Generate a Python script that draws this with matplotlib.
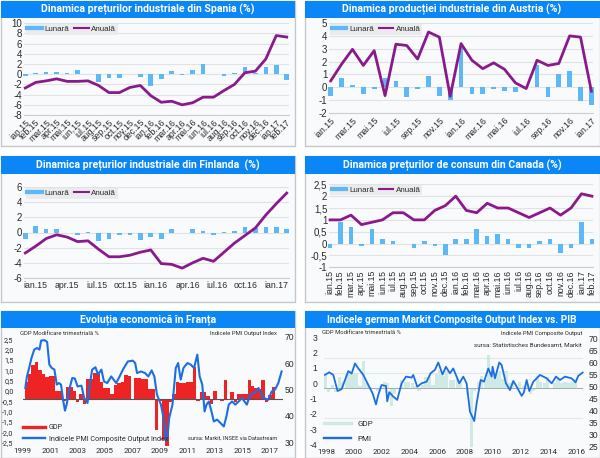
import matplotlib
matplotlib.use("Agg")
import matplotlib.pyplot as plt
from matplotlib.lines import Line2D
from matplotlib.patches import Rectangle

W, H = 600, 458
NARROW = ["Roboto", "Liberation Sans", "DejaVu Sans"]
plt.rcParams["font.family"] = ["Liberation Sans", "DejaVu Sans"]

BAND = "#0a86f6"
BAR = "#5cb8f6"
PURPLE = "#8a1a8c"
TXT = "#2b2b2b"
GRID = "#dfe3e5"

# luni afisate pe axe
MONTHS = ["ian", "feb", "mar", "apr", "mai", "iun", "iul", "aug", "sep", "oct", "nov", "dec"]
months_15_17 = [f"{m}.{y}" for y in (15, 16) for m in MONTHS] + ["ian.17", "feb.17"]

spain_m = [-0.4, 0.3, 0.5, 0.5, 0.3, 0.9, 0.1, -1.6, -0.8, -0.7, 0.0, -0.6, -2.4, -1.0, 0.6, -0.2,
           0.8, 2.0, 0.0, -0.3, 0.3, 1.4, 0.3, 1.5, 1.8, -1.2]
spain_y = [-2.7, -1.6, -1.3, -0.9, -1.4, -1.4, -1.3, -2.2, -3.6, -3.6, -2.6, -2.2, -4.2, -5.5, -5.3,
           -6.0, -5.6, -4.5, -4.5, -3.2, -2.0, 0.3, 0.6, 3.0, 7.6, 7.3]

austria_m = [-0.65, 0.7, 0.2, -0.5, -0.1, 0.7, 0.5, -0.75, -0.1, 0.9, -0.65, -1.0, 3.2, -0.55, -0.5,
             -0.1, -0.3, -0.4, 0.0, 1.7, -0.75, 1.0, 1.3, -1.05, -1.4]
austria_y = [0.5, 1.8, 2.95, 1.7, 2.85, -0.65, 3.35, 3.25, 2.2, 4.3, 3.9, -0.7, 3.4, 2.1, 1.45, 1.9,
             1.4, 0.35, -0.1, 2.1, 1.7, 1.85, 4.0, 3.9, -0.3]

finland_m = [-0.9, 0.9, 0.4, 0.4, 0.0, -0.3, 0.05, -1.1, -0.9, -0.3, -0.3, -1.0, -0.6, -0.8, 0.4, 0.0,
             0.5, 0.2, -0.3, 0.05, 0.2, 0.7, 0.6, 0.7, 0.7, 0.4]
finland_y = [-2.7, -1.8, -0.8, -0.3, -0.6, -1.2, -1.1, -2.2, -3.2, -3.2, -3.0, -2.6, -2.3, -4.1, -4.2,
             -4.7, -4.0, -3.4, -3.8, -2.6, -1.4, -0.4, 0.6, 2.3, 3.8, 5.2]

canada_m = [-0.2, 0.9, 0.7, -0.1, 0.6, 0.2, 0.1, 0.0, -0.2, 0.1, -0.1, -0.5, 0.2, 0.2, 0.6, 0.3, 0.4,
            0.2, -0.2, -0.2, 0.1, 0.2, -0.4, -0.2, 0.9, 0.2]
canada_y = [1.0, 1.0, 1.2, 0.8, 0.9, 1.0, 1.3, 1.3, 1.0, 1.0, 1.4, 1.6, 2.0, 1.4, 1.3, 1.7, 1.5, 1.5,
            1.3, 1.1, 1.3, 1.5, 1.2, 1.5, 2.1, 2.0]

# Franta: PIB trimestrial din 1999, PMI
fr_gdp = [0.58, 0.87, 1.18, 1.3, 1.0, 0.86, 0.78, 0.82, 0.82, 0.3, 0.3, -0.05, 0.43, 0.43, 0.3, -0.1,
          0.2, -0.15, 0.7, 0.7, 0.9, 0.9, 0.6, 0.4, 0.4, 0.2, 0.5, 0.55, 0.6, 0.85, 0.8, 0.0,
          0.75, 0.75, 0.7, 0.7, 0.35, 0.35, -1.05, -0.05, -1.4, -1.6, -0.1, 0.2, 0.6, 0.55, 0.55, 0.6,
          0.6, 1.1, -0.05, 0.25, 0.25, 0.1, -0.15, 0.28, 0.0, -0.05, 0.67, -0.02, 0.25, -0.1, 0.2, 0.2,
          0.2, 0.65, 0.45, 0.4, 0.35, 0.67, -0.1, 0.15, 0.43]
fr_pmi_x = [1999.05, 1999.17, 1999.3, 1999.5, 1999.7, 1999.9, 2000.08, 2000.2, 2000.45, 2000.64, 2000.8,
            2000.98, 2001.17, 2001.34, 2001.5, 2001.65, 2001.82, 2001.94, 2002.06, 2002.25, 2002.47,
            2002.66, 2002.86, 2003.14, 2003.34, 2003.58, 2003.75, 2003.92, 2004.16, 2004.35, 2004.59,
            2004.78, 2005.02, 2005.31, 2005.67, 2005.92, 2006.16, 2006.52, 2006.88, 2007.05, 2007.19,
            2007.48, 2007.77, 2008.01, 2008.25, 2008.45, 2008.64, 2008.93, 2009.12, 2009.29, 2009.41,
            2009.53, 2009.77, 2010.01, 2010.18, 2010.37, 2010.57, 2010.86, 2011.1, 2011.34, 2011.58,
            2011.75, 2011.94, 2012.11, 2012.25, 2012.42, 2012.61, 2012.78, 2013.02, 2013.27, 2013.51,
            2013.7, 2013.87, 2014.11, 2014.35, 2014.59, 2014.83, 2015.19, 2015.43, 2015.72, 2016.04,
            2016.4, 2016.76, 2017.0, 2017.24, 2017.48, 2017.72]
fr_pmi = [50.5, 54.9, 57.5, 61.9, 65.1, 65.7, 65.1, 68.5, 68.7, 68.0, 59.4, 58.1, 57.5, 51.8, 52.4, 51.8,
          45.4, 41.9, 44.2, 49.9, 54.3, 54.1, 51.1, 51.4, 46.7, 44.8, 51.8, 57.5, 58.4, 55.6, 57.5, 53.0,
          52.4, 54.9, 52.4, 54.9, 57.5, 60.6, 60.9, 60.0, 56.2, 56.8, 56.2, 54.9, 57.2, 54.9, 48.0, 44.2,
          39.1, 30.3, 32.2, 39.1, 44.2, 58.1, 60.0, 53.7, 58.1, 60.0, 59.4, 58.1, 63.2, 54.9, 51.8, 41.6,
          44.2, 45.4, 41.6, 37.8, 38.5, 37.2, 35.9, 39.7, 44.2, 45.4, 44.2, 45.4, 46.7, 44.2, 48.0, 48.6,
          50.5, 46.7, 46.1, 49.2, 49.9, 52.4, 56.8]
fr_years = [1999, 2001, 2003, 2005, 2007, 2009, 2011, 2013, 2015, 2017]
fr_left = [2.5, 2.0, 1.5, 1.0, 0.5, 0.0, -0.5, -1.0, -1.5, -2.0, -2.5]
fr_right = [30, 40, 50, 60, 70]

# Germania
de_gdp = [0.8, -0.3, 0.2, -0.3, 0.7, 0.4, 0.9, 1.0, 1.0, 0.9, 0.1, 1.8, 0.3, 0.05, -0.1, -0.2,
          0.1, 0.4, 0.3, -1.2, -0.4, -0.1, 0.5, 0.4, 0.4, 0.3, 0.1, -0.2, 0.2, 0.7, 0.7, 0.2,
          0.9, 1.2, 0.8, 1.1, 0.5, 0.5, 0.6, 0.5, -0.1, -0.5, -3.93, -0.2, 0.4, 0.8, 0.6, 2.2,
          1.0, 1.0, 1.1, 0.6, 1.1, 0.3, 0.4, -0.1, 0.4, 0.1, 0.2, -0.4, -0.2, 0.8, 0.4, 0.3,
          0.7, -0.1, 0.3, 0.6, 0.3, 0.4, 0.3, 0.4, 0.6]
de_pmi_x = [1997.93, 1998.24, 1998.53, 1998.72, 1998.84, 1999.13, 1999.37, 1999.61, 1999.85, 2000.09,
            2000.33, 2000.69, 2001.05, 2001.36, 2001.6, 2001.76, 2002.0, 2002.32, 2002.41, 2002.56,
            2002.84, 2003.13, 2003.44, 2003.76, 2004.16, 2004.28, 2004.57, 2004.88, 2005.24, 2005.53,
            2005.84, 2006.08, 2006.39, 2006.63, 2006.92, 2007.16, 2007.4, 2007.59, 2007.88, 2008.12,
            2008.36, 2008.67, 2008.84, 2009.13, 2009.37, 2009.68, 2009.92, 2009.99, 2010.16, 2010.47,
            2010.64, 2010.95, 2011.24, 2011.48, 2011.72, 2012.08, 2012.24, 2012.44, 2012.63, 2012.92,
            2013.4, 2013.88, 2014.24, 2014.55, 2014.84, 2015.2, 2015.67, 2015.96, 2016.15, 2016.47]
de_pmi = [54.9, 56.0, 54.9, 50.7, 48.2, 49.0, 52.8, 56.5, 55.5, 59.7, 57.6, 54.9, 50.7, 47.2, 42.6, 46.5,
          50.7, 50.3, 43.9, 47.7, 45.9, 44.5, 51.4, 54.2, 53.8, 54.9, 50.0, 51.4, 52.1, 55.6, 57.0, 60.1,
          55.1, 58.3, 55.6, 57.6, 54.2, 51.4, 54.2, 51.4, 39.6, 35.7, 43.1, 52.8, 52.1, 57.6, 54.2, 58.3,
          53.5, 60.1, 59.0, 51.4, 48.6, 52.4, 50.0, 46.2, 47.6, 52.8, 48.2, 52.1, 54.9, 53.5, 51.4, 54.2,
          52.8, 54.2, 53.5, 51.8, 54.5, 55.9]
de_years = [1998, 2000, 2002, 2004, 2006, 2008, 2010, 2012, 2014, 2016]
de_left = [3, 2, 1, 0, -1, -2, -3, -4]
de_right = [25, 30, 35, 40, 45, 50, 55, 60, 65, 70]


def px_axes(fig, x0, y0, x1, y1, **kw):
    """Axes placed by pixel box (y measured from the top of the image)."""
    ax = fig.add_axes([x0 / W, 1 - y1 / H, (x1 - x0) / W, (y1 - y0) / H], **kw)
    ax.patch.set_alpha(0)
    return ax


def set_ylim_px(ax, v1, p1, v2, p2, top, bottom):
    """ylim such that value v1 lands on pixel p1 and v2 on p2, for an axes spanning top..bottom."""
    k = (v1 - v2) / (p1 - p2)
    ax.set_ylim(v1 + k * (bottom - p1), v1 + k * (top - p1))


def comma(v, dec=1):
    return f"{v:.{dec}f}".replace(".", ",")


def card(bg, x0, y0, x1, y1, band_bottom, title, size=7.6):
    bg.add_patch(Rectangle((x0, y0), x1 - x0, y1 - y0, fc="#f8fafb", ec="#c4c8ca", lw=1.0))
    bg.add_patch(Rectangle((x0, y0), x1 - x0, band_bottom - y0, fc=BAND, ec="none"))
    bg.text((x0 + x1) / 2, (y0 + band_bottom) / 2 + 0.3, title, color="white", ha="center", va="center",
            fontsize=size, fontweight="bold", family=NARROW)


def monthly(fig, box, xlim, ylim, yticks, ylabels, monthly_v, yearly_v, tick_pos, tick_lab, rot, leg_box):
    x0, y0, x1, y1 = box
    ax = px_axes(fig, x0, y0, x1, y1)
    xs = list(range(len(monthly_v)))
    ax.bar(xs, monthly_v, width=0.44, color=BAR, zorder=2, clip_on=False)
    ax.plot(xs, yearly_v, color=PURPLE, lw=2.0, zorder=3, clip_on=False)
    ax.set_xlim(*xlim)
    ax.set_ylim(*ylim)
    ax.set_yticks(yticks, ylabels)
    ax.set_xticks(tick_pos, tick_lab)
    ax.yaxis.grid(True, color=GRID, lw=0.8, zorder=0)
    ax.axhline(0, color="#b9dcf5", lw=0.7, ls=":", zorder=1)
    for s in ax.spines.values():
        s.set_visible(False)
    ax.spines["bottom"].set_visible(True)
    ax.spines["bottom"].set_color("#c9ced1")
    ax.tick_params(axis="y", length=0, pad=1.2, labelsize=7.0, labelcolor=TXT)
    ax.tick_params(axis="x", length=0, pad=2, labelsize=6.3, labelcolor=TXT)
    for t in ax.get_xticklabels():
        t.set_rotation(rot)
        if rot == 45:
            t.set_ha("right")
            t.set_rotation_mode("anchor")
    handles = [Line2D([], [], color=BAR, lw=3.0, label="Lunară"),
               Line2D([], [], color=PURPLE, lw=1.5, label="Anuală")]
    lx, ly = leg_box
    leg = ax.legend(handles=handles, ncol=2, loc="upper left",
                    bbox_to_anchor=((lx - x0) / (x1 - x0), 1 - (ly - y0) / (y1 - y0)),
                    fontsize=5.8, frameon=True, fancybox=False, facecolor="#e9ebec", edgecolor="none",
                    framealpha=1, borderpad=0.2, borderaxespad=0, handlelength=1.8, handletextpad=0.35,
                    columnspacing=0.6, labelcolor=TXT)
    leg.set_zorder(4)
    return ax


fig = plt.figure(figsize=(W / 100, H / 100), dpi=100, facecolor="white")
bg = fig.add_axes([0, 0, 1, 1], zorder=0)
bg.set_xlim(0, W)
bg.set_ylim(H, 0)
bg.axis("off")

card(bg, 0.5, 0.5, 295, 146, 17.5, "Dinamica prețurilor industriale din Spania (%)")
card(bg, 304.5, 0.5, 599.5, 146, 17.5, "Dinamica producției industriale din Austria (%)")
card(bg, 0.5, 155.5, 295, 302, 174, "Dinamica prețurilor industriale din Finlanda  (%)")
card(bg, 304.5, 155.5, 599.5, 302, 174, "Dinamica prețurilor de consum din Canada (%)")
card(bg, 0.5, 311, 295, 457.5, 328, "Evoluția economică în Franța", size=7.6)
card(bg, 304.5, 311, 599.5, 457.5, 328, "Indicele german Markit Composite Output Index vs. PIB", size=7.2)

# randul de sus
monthly(fig, (23.5, 23.3, 288.5, 115), (-0.17, 25.17), (-8, 10), list(range(-8, 11, 2)),
        [str(v) for v in range(-8, 11, 2)], spain_m, spain_y,
        list(range(26)), months_15_17, 45, (25.5, 24))
monthly(fig, (329, 23, 593, 113), (-0.16, 24.15), (-2, 5), list(range(-2, 6)),
        [str(v) for v in range(-2, 6)], austria_m, austria_y,
        list(range(0, 25, 2)), months_15_17[:25:2], 45, (330, 24))

# randul din mijloc
monthly(fig, (23.5, 187, 288.5, 278), (-0.17, 25.17), (-6, 6), list(range(-6, 7, 2)),
        [str(v) for v in range(-6, 7, 2)], finland_m, finland_y,
        [0.95, 3.95, 6.85, 9.55, 12.45, 15.55, 18.3, 21.1, 24.05], months_15_17[:25:3], 0, (25.5, 188))
canada_ticks = [-1, -0.5, 0, 0.5, 1, 1.5, 2, 2.5]
canada_labs = ["-1", "-0,5", "0", "0,5", "1", "1,5", "2", "2,5"]
monthly(fig, (329, 184.3, 593, 267.3), (-0.1, 25.1), (-1, 2.5), canada_ticks, canada_labs,
        canada_m, canada_y, list(range(26)), months_15_17, 90, (330, 184.5))

# Franta
box = (22.7, 336, 283, 446)
fa = px_axes(fig, *box)
set_ylim_px(fa, 2.5, 339.3, -2.5, 442.7, box[1], box[3])
fa.set_xlim(1999, 1999 + (box[2] - box[0]) / 13.83)
fa.set_yticks(fr_left, [comma(v) for v in fr_left])
fa.set_xticks([y - 0.14 for y in fr_years], [str(y) for y in fr_years])
fa.tick_params(axis="y", length=0, pad=6.5, labelsize=5.2, labelcolor=TXT)
fa.tick_params(axis="x", length=0, pad=1.5, labelsize=5.8, labelcolor=TXT)
for lab in fa.get_xticklabels() + fa.get_yticklabels():
    lab.set_family(NARROW)
for s in fa.spines.values():
    s.set_visible(False)

fg = px_axes(fig, *box, sharex=fa)
set_ylim_px(fg, 0, 399.3, 1, 370.3, box[1], box[3])
fg.axis("off")
fr_q = [1999.12 + 0.25 * i for i in range(len(fr_gdp))]
fg.bar(fr_q, fr_gdp, width=0.25, color="#ee2424", zorder=2)
fg.axhline(0, color="#555555", lw=0.8, zorder=3)

fp = px_axes(fig, *box, sharex=fa)
set_ylim_px(fp, 70, 336.7, 30, 442, box[1], box[3])
fp.plot(fr_pmi_x, fr_pmi, color="#1c6fe3", lw=1.5, zorder=4)
fp.yaxis.tick_right()
fp.set_yticks(fr_right, [str(v) for v in fr_right])
fp.tick_params(axis="y", length=0, pad=1, labelsize=6.2, labelcolor=TXT)
fp.tick_params(axis="x", length=0, labelbottom=False)
for s in fp.spines.values():
    s.set_visible(False)
fr_handles = [Line2D([], [], color="#ee2424", lw=2.4, label="GDP"),
              Line2D([], [], color="#1c6fe3", lw=1.7, label="Indicele PMI Composite Output Index")]
fp.legend(handles=fr_handles, loc="lower left", bbox_to_anchor=(0, 0.03), frameon=False, borderpad=0,
          borderaxespad=0, prop={"family": NARROW, "size": 5.2}, handlelength=3.1, handletextpad=0.5,
          labelspacing=0.6, labelcolor=TXT)
bg.text(20, 333.5, "GDP Modificare trimestrială %", fontsize=4.2, family=NARROW, color=TXT, va="center")
bg.text(277, 333.5, "Indicele PMI Output Index", fontsize=4.2, family=NARROW, color=TXT, va="center", ha="right")
fp.text(277, 438.5, "sursa: Markit, INSEE via Datastream", fontsize=4.1, family=NARROW, color=TXT,
        va="center", ha="right", transform=bg.transData, zorder=6)

# Germania
box = (324, 336, 583, 446.7)
da = px_axes(fig, *box)
set_ylim_px(da, 3, 337.3, -4, 444.3, box[1], box[3])
da.set_xlim(1997.86, 1997.86 + (box[2] - box[0]) / 13.9)
da.set_yticks(de_left, [str(v) for v in de_left])
da.set_xticks(de_years, [str(y) for y in de_years])
da.tick_params(axis="y", length=0, pad=5, labelsize=6.2, labelcolor=TXT)
da.tick_params(axis="x", length=0, pad=1.5, labelsize=5.8, labelcolor=TXT)
for lab in da.get_xticklabels():
    lab.set_family(NARROW)
for s in da.spines.values():
    s.set_visible(False)

dg = px_axes(fig, *box, sharex=da)
set_ylim_px(dg, 0, 387.7, 1, 372.7, box[1], box[3])
de_q = [1997.95 + 0.25 * i for i in range(len(de_gdp))]
dg.bar(de_q, de_gdp, width=0.23, color="#cfe9e5", zorder=2)
dg.set_yticks([-2, 0, 1, 2])
dg.yaxis.grid(True, color="#e3e8e8", lw=0.8, zorder=0)
dg.tick_params(axis="both", length=0, labelleft=False, labelbottom=False)
dg.axhline(0, color="#9aa5a5", lw=0.6, zorder=3)
for s in dg.spines.values():
    s.set_visible(False)

dp = px_axes(fig, *box, sharex=da)
set_ylim_px(dp, 70, 338.7, 25, 446.7, box[1], box[3])
dp.plot(de_pmi_x, de_pmi, color="#1c6fe3", lw=1.3, zorder=4, clip_on=False)
dp.yaxis.tick_right()
dp.set_yticks(de_right, [str(v) for v in de_right])
dp.tick_params(axis="y", length=0, pad=4, labelsize=6.2, labelcolor=TXT)
dp.tick_params(axis="x", length=0, labelbottom=False)
for s in dp.spines.values():
    s.set_visible(False)
de_handles = [Line2D([], [], color="#cfe9e5", lw=2.4, label="GDP"),
              Line2D([], [], color="#1c6fe3", lw=1.7, label="PMI")]
dp.legend(handles=de_handles, loc="lower left", bbox_to_anchor=(0, 0.04), frameon=False, borderpad=0,
          borderaxespad=0, prop={"family": NARROW, "size": 5.8}, handlelength=3.4, handletextpad=0.7,
          labelspacing=1.1, labelcolor=TXT)
bg.text(322, 333, "GDP Modificare trimestrială %", fontsize=4.2, family=NARROW, color=TXT, va="center")
bg.text(582, 333, "Indicele PMI Composite Output", fontsize=4.2, family=NARROW, color=TXT, va="center", ha="right")
bg.text(582, 345.5, "sursa: Statistisches Bundesamt, Markit", fontsize=4.5, family=NARROW, color=TXT,
        va="center", ha="right")

fig.savefig("out.png", dpi=100)
plt.close(fig)
